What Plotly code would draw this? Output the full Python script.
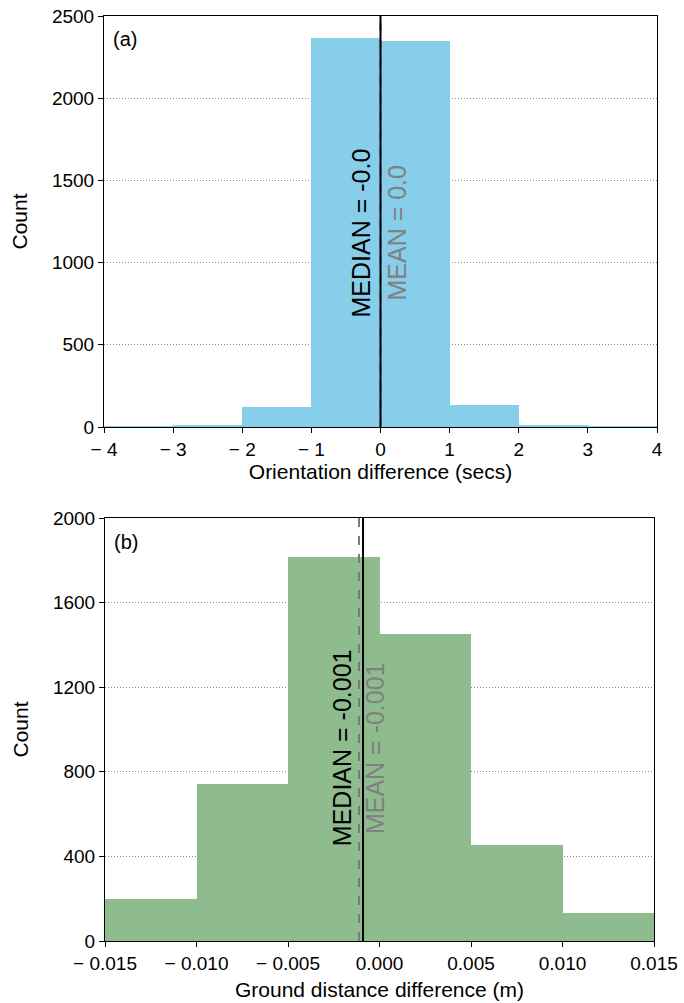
import plotly.graph_objects as go

# ---- data ----
orient_edges = [-4, -3, -2, -1, 0, 1, 2, 3, 4]
orient_counts = [1, 9, 122, 2366, 2348, 134, 8, 1]
orient_median = -0.0
orient_mean = 0.0
orient_median_label = "-0.0"
orient_mean_label = "0.0"

dist_edges = [-0.015, -0.010, -0.005, 0.000, 0.005, 0.010, 0.015]
dist_counts = [199, 742, 1816, 1451, 454, 132]
dist_median = -0.0009
dist_mean = -0.00112
dist_median_label = "-0.001"
dist_mean_label = "-0.001"

orient_xticks = [-4, -3, -2, -1, 0, 1, 2, 3, 4]
orient_xticktext = ["\u2212 4", "\u2212 3", "\u2212 2", "\u2212 1", "0", "1", "2", "3", "4"]
orient_yticks = [0, 500, 1000, 1500, 2000, 2500]
dist_xticks = [-0.015, -0.010, -0.005, 0.0, 0.005, 0.010, 0.015]
dist_xticktext = ["\u2212 0.015", "\u2212 0.010", "\u2212 0.005", "0.000", "0.005", "0.010", "0.015"]
dist_yticks = [0, 400, 800, 1200, 1600, 2000]

FONT = "Liberation Sans, Arial, sans-serif"


def centers(edges):
    return [(a + b) / 2 for a, b in zip(edges[:-1], edges[1:])]


def widths(edges):
    return [b - a for a, b in zip(edges[:-1], edges[1:])]


fig = go.Figure()
fig.add_trace(go.Bar(x=centers(orient_edges), y=orient_counts, width=widths(orient_edges),
                     marker=dict(color="#87CEEB", line=dict(width=0)),
                     xaxis="x", yaxis="y", showlegend=False))
fig.add_trace(go.Bar(x=centers(dist_edges), y=dist_counts, width=widths(dist_edges),
                     marker=dict(color="#8FBC8F", line=dict(width=0)),
                     xaxis="x2", yaxis="y2", showlegend=False))

axis_common = dict(showline=True, mirror=True, linecolor="black", linewidth=1,
                   ticks="outside", ticklen=5, tickcolor="black", tickwidth=1,
                   tickfont=dict(family=FONT, size=19, color="black"),
                   zeroline=False, automargin=False)

H = 925.0
fig.update_layout(
    width=684, height=1003,
    margin=dict(l=104, r=27, t=16, b=62),
    paper_bgcolor="white", plot_bgcolor="white",
    font=dict(family=FONT, color="black"),
    bargap=0,
    xaxis=dict(domain=[0, 1], range=[-4, 4], tickvals=orient_xticks, ticktext=orient_xticktext,
               showgrid=False, anchor="y",
               title=dict(text="Orientation difference (secs)", font=dict(family=FONT, size=21), standoff=5),
               **axis_common),
    yaxis=dict(domain=[(941 - 427) / H, 1.0], range=[0, 2500], tickvals=orient_yticks,
               showgrid=True, gridcolor="#8a8a8a", griddash="1px,2px", gridwidth=1, anchor="x",
               title=dict(text="Count", font=dict(family=FONT, size=21), standoff=18),
               **axis_common),
    xaxis2=dict(domain=[1 / 553, 550 / 553], range=[-0.015, 0.015], tickvals=dist_xticks, ticktext=dist_xticktext,
                showgrid=False, anchor="y2",
                title=dict(text="Ground distance difference (m)", font=dict(family=FONT, size=21), standoff=9),
                **axis_common),
    yaxis2=dict(domain=[0, (941 - 518) / H], range=[0, 2000], tickvals=dist_yticks,
                showgrid=True, gridcolor="#8a8a8a", griddash="1px,2px", gridwidth=1, anchor="x2",
                title=dict(text="Count", font=dict(family=FONT, size=21), standoff=18),
                **axis_common),
)

# vertical lines
for xr, yr, med, mean in [("x", "y", orient_median, orient_mean), ("x2", "y2", dist_median, dist_mean)]:
    fig.add_shape(type="line", xref=xr, yref=yr + " domain", x0=mean, x1=mean, y0=0, y1=1,
                  line=dict(color="#7a7a7a", width=2, dash="dash"))
    fig.add_shape(type="line", xref=xr, yref=yr + " domain", x0=med, x1=med, y0=0, y1=1,
                  line=dict(color="black", width=2))

# rotated labels
for xr, yr, med, mean, mlab, alab, ypos, mshift, ashift in [
    ("x", "y", orient_median, orient_mean, orient_median_label, orient_mean_label, 0.472, -19, 17),
    ("x2", "y2", dist_median, dist_mean, dist_median_label, dist_mean_label, 0.456, -21, 16),
]:
    fig.add_annotation(xref=xr, yref=yr + " domain", x=med, y=ypos, text="MEDIAN = " + mlab,
                       textangle=-90, showarrow=False, xanchor="center", yanchor="middle", xshift=mshift,
                       font=dict(family=FONT, size=25, color="black"))
    fig.add_annotation(xref=xr, yref=yr + " domain", x=mean, y=ypos, text="MEAN = " + alab,
                       textangle=-90, showarrow=False, xanchor="center", yanchor="middle", xshift=ashift,
                       font=dict(family=FONT, size=25, color="#808080"))

# panel labels
fig.add_annotation(xref="x domain", yref="y domain", x=0.012, y=0.975, text="(a)", showarrow=False,
                   xanchor="left", yanchor="top", font=dict(family=FONT, size=20, color="black"))
fig.add_annotation(xref="x2 domain", yref="y2 domain", x=0.012, y=0.975, text="(b)", showarrow=False,
                   xanchor="left", yanchor="top", font=dict(family=FONT, size=20, color="black"))

fig.write_html("out.html")
